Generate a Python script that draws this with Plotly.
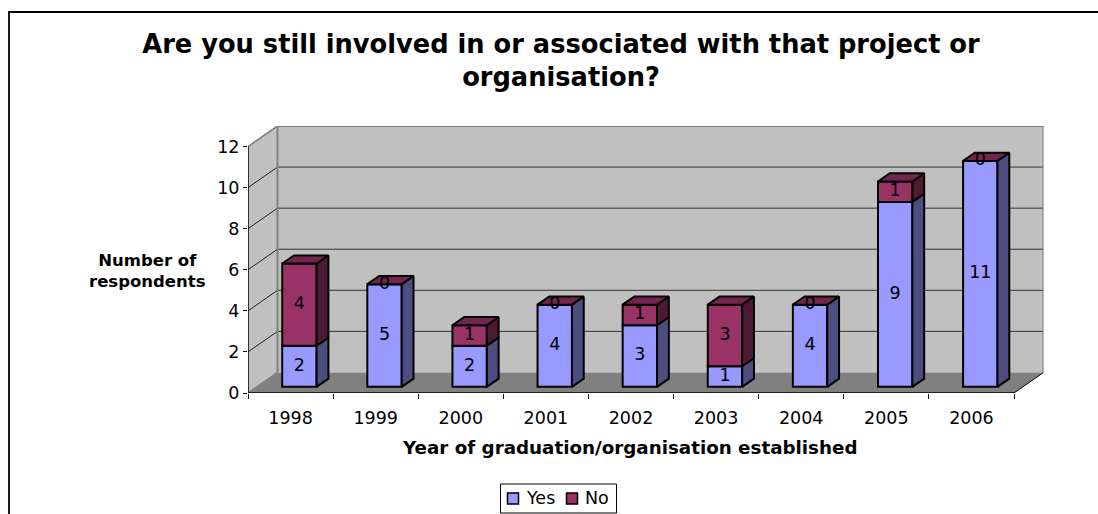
import plotly.graph_objects as go

# Survey responses per year
years = ["1998", "1999", "2000", "2001", "2002", "2003", "2004", "2005", "2006"]
yes_counts = [2, 5, 2, 4, 3, 1, 4, 9, 11]
no_counts = [4, 0, 1, 0, 1, 3, 0, 1, 0]
y_ticks = [0, 2, 4, 6, 8, 10, 12]

TITLE = "Are you still involved in or associated with that project or<br>organisation?"
X_TITLE = "Year of graduation/organisation established"
Y_TITLE = "Number of<br>respondents"

YES_FRONT, YES_SIDE = "#9999FF", "#4D4D80"
NO_FRONT, NO_SIDE, NO_TOP = "#993366", "#4D1A33", "#73264D"
WALL, FLOOR, EDGE = "#C0C0C0", "#808080", "#808080"
FONT = "DejaVu Sans"

W, H = 1098, 514
PX_LEFT, PX_RIGHT = 248.0, 1043.5
PX_BOTTOM, PX_TOP = 393.0, 126.0
CAT_PX = (1014.0 - 248.0) / 9
Y_PX = (393.0 - 147.0) / 12

# Oblique projection: depth 0 is the front of the floor, depth 1 the back wall
SKEW_X = 29.5 / CAT_PX
SKEW_Y = 20.5 / Y_PX
BAR_WIDTH = 34.4 / CAT_PX
DEPTH_NEAR, DEPTH_FAR = 0.3, 0.7
X_RANGE = [0, 9 + SKEW_X]
Y_RANGE = [0, 12 + SKEW_Y]


def project(x, y, depth):
    return x + SKEW_X * depth, y + SKEW_Y * depth


def polygon(points):
    pts = [project(*p) for p in points]
    pts.append(pts[0])
    return [p[0] for p in pts], [p[1] for p in pts]


def box_face(xs, ys, color):
    return go.Scatter(x=xs, y=ys, mode="lines", fill="toself", fillcolor=color,
                      line=dict(color="black", width=2), hoverinfo="skip",
                      showlegend=False, cliponaxis=False)


def poly_path(points):
    xs, ys = polygon(points)
    return "M " + " L ".join(f"{a},{b}" for a, b in zip(xs, ys)) + " Z"


def line_shape(p0, p1, color, width):
    x0, y0 = project(*p0)
    x1, y1 = project(*p1)
    return dict(type="line", xref="x", yref="y", x0=x0, y0=y0, x1=x1, y1=y1,
                layer="below", line=dict(color=color, width=width))


n = len(years)
shapes = [
    # Side wall, back wall and floor
    dict(type="path", xref="x", yref="y", layer="below", fillcolor=WALL, line=dict(width=0),
         path=poly_path([(0, 0, 0), (0, 0, 1), (0, 12, 1), (0, 12, 0)])),
    dict(type="path", xref="x", yref="y", layer="below", fillcolor=WALL, line=dict(width=0),
         path=poly_path([(0, 0, 1), (n, 0, 1), (n, 12, 1), (0, 12, 1)])),
    dict(type="path", xref="x", yref="y", layer="below", fillcolor=FLOOR, line=dict(width=0),
         path=poly_path([(0, 0, 0), (n, 0, 0), (n, 0, 1), (0, 0, 1)])),
]
for v in y_ticks[1:]:
    shapes.append(line_shape((0, v, 0), (0, v, 1), "#222222", 1))
    shapes.append(line_shape((0, v, 1), (n, v, 1), "#333333", 1))
shapes += [
    line_shape((0, 0, 1), (0, 12, 1), EDGE, 2),
    line_shape((0, 12, 0), (0, 12, 1), EDGE, 1.5),
    line_shape((0, 12, 1), (n, 12, 1), EDGE, 1),
    line_shape((n, 0, 1), (n, 12, 1), EDGE, 2),
    line_shape((n, 0, 0), (n, 0, 1), "black", 1),
    line_shape((0, 0, 0), (0, 0, 1), EDGE, 1.5),
    line_shape((0, 0, 0), (n, 0, 0), "black", 1.5),
    line_shape((0, 0, 0), (0, 12, 0), "black", 1.5),
]

# Chart frame: only its left and top edges fall inside the page
shapes.append(dict(type="path", xref="paper", yref="paper", layer="below",
                   path=f"M {9/W},0 L {9/W},{1-12/H} L 1,{1-12/H}",
                   line=dict(color="black", width=1.8)))

fig = go.Figure()

# Front faces, lifted and shifted to the bars' position inside the floor depth
centres = [i + 0.5 for i in range(n)]
front_x = [project(c, 0, DEPTH_NEAR)[0] for c in centres]
lift = project(0, 0, DEPTH_NEAR)[1]
fig.add_trace(go.Bar(name="Yes", x=front_x, y=yes_counts, base=[lift] * n, width=BAR_WIDTH,
                     marker=dict(color=YES_FRONT, line=dict(color="black", width=2)),
                     showlegend=False, hoverinfo="skip"))
fig.add_trace(go.Bar(name="No", x=front_x, y=no_counts, base=[lift + v for v in yes_counts],
                     width=BAR_WIDTH, marker=dict(color=NO_FRONT, line=dict(color="black", width=2)),
                     showlegend=False, hoverinfo="skip"))

# Side and top faces of every stacked column
for c, yes, no in zip(centres, yes_counts, no_counts):
    right = c + BAR_WIDTH / 2
    left = c - BAR_WIDTH / 2
    total = yes + no
    sx, sy = polygon([(right, 0, DEPTH_NEAR), (right, 0, DEPTH_FAR), (right, yes, DEPTH_FAR), (right, yes, DEPTH_NEAR)])
    fig.add_trace(box_face(sx, sy, YES_SIDE))
    if no:
        sx, sy = polygon([(right, yes, DEPTH_NEAR), (right, yes, DEPTH_FAR), (right, total, DEPTH_FAR), (right, total, DEPTH_NEAR)])
        fig.add_trace(box_face(sx, sy, NO_SIDE))
    tx, ty = polygon([(left, total, DEPTH_NEAR), (right, total, DEPTH_NEAR), (right, total, DEPTH_FAR), (left, total, DEPTH_FAR)])
    fig.add_trace(box_face(tx, ty, NO_TOP))

# Data labels sit in the middle of each front segment
fig.add_trace(go.Scatter(
    x=front_x + front_x,
    y=[lift + v / 2 for v in yes_counts] + [lift + y + v / 2 for y, v in zip(yes_counts, no_counts)],
    text=[str(v) for v in yes_counts + no_counts],
    mode="text", textposition="middle center",
    textfont=dict(family=FONT, size=17.5, color="black"),
    showlegend=False, hoverinfo="skip", cliponaxis=False))

annotations = [
    dict(text=f"<b>{X_TITLE}</b>", xref="paper", yref="paper", x=629.5 / W, y=1 - 447 / H, showarrow=False,
         font=dict(family=FONT, size=18.3, color="black"), xanchor="center", yanchor="middle"),
    dict(text=f"<b>{Y_TITLE}</b>", xref="paper", yref="paper", x=147 / W, y=1 - 271 / H, showarrow=False,
         font=dict(family=FONT, size=16.5, color="black"), xanchor="center", yanchor="middle", align="center"),
    dict(text="Yes", xref="paper", yref="paper", x=524 / W, y=1 - 498 / H, showarrow=False,
         font=dict(family=FONT, size=17.5, color="black"), xanchor="left", yanchor="middle"),
    dict(text="No", xref="paper", yref="paper", x=583 / W, y=1 - 498 / H, showarrow=False,
         font=dict(family=FONT, size=17.5, color="black"), xanchor="left", yanchor="middle"),
]


# Legend box and swatches
def paper_rect(x0, y0, x1, y1, fill, width):
    return dict(type="rect", xref="paper", yref="paper", x0=x0 / W, x1=x1 / W,
                y0=1 - y1 / H, y1=1 - y0 / H, fillcolor=fill, line=dict(color="black", width=width),
                layer="below")


shapes += [
    paper_rect(500.5, 484, 616.5, 513, "white", 1),
    paper_rect(507.5, 493, 518.5, 504, YES_FRONT, 1.5),
    paper_rect(566.5, 493, 577.5, 504, NO_FRONT, 1.5),
]

fig.update_layout(
    width=W, height=H, autosize=False,
    margin=dict(l=0, r=0, t=0, b=0, autoexpand=False),
    paper_bgcolor="white", plot_bgcolor="rgba(0,0,0,0)",
    barmode="overlay", showlegend=False,
    title=dict(text=f"<b>{TITLE}</b>", x=561 / W, xanchor="center", xref="paper",
               y=1 - 53 / H, yref="container", yanchor="middle",
               font=dict(family=FONT, size=25.7, color="black")),
    xaxis=dict(domain=[PX_LEFT / W, PX_RIGHT / W], range=X_RANGE, showgrid=False, zeroline=False,
               automargin=False,
               tickmode="array", tickvals=centres, ticktext=years, ticks="", ticklen=0,
               ticklabelstandoff=12,
               tickfont=dict(family=FONT, size=17.5, color="black"),
               minor=dict(tickmode="array", tickvals=list(range(n + 1)), ticks="outside",
                          ticklen=5, tickcolor="black", tickwidth=1, showgrid=False)),
    yaxis=dict(domain=[1 - PX_BOTTOM / H, 1 - PX_TOP / H], range=Y_RANGE, showgrid=False, zeroline=False,
               automargin=False,
               tickmode="array", tickvals=y_ticks, ticks="outside", ticklen=4,
               tickcolor="black", tickwidth=1,
               tickfont=dict(family=FONT, size=17.5, color="black")),
    shapes=shapes,
    annotations=annotations,
)

fig.write_html("out.html")
